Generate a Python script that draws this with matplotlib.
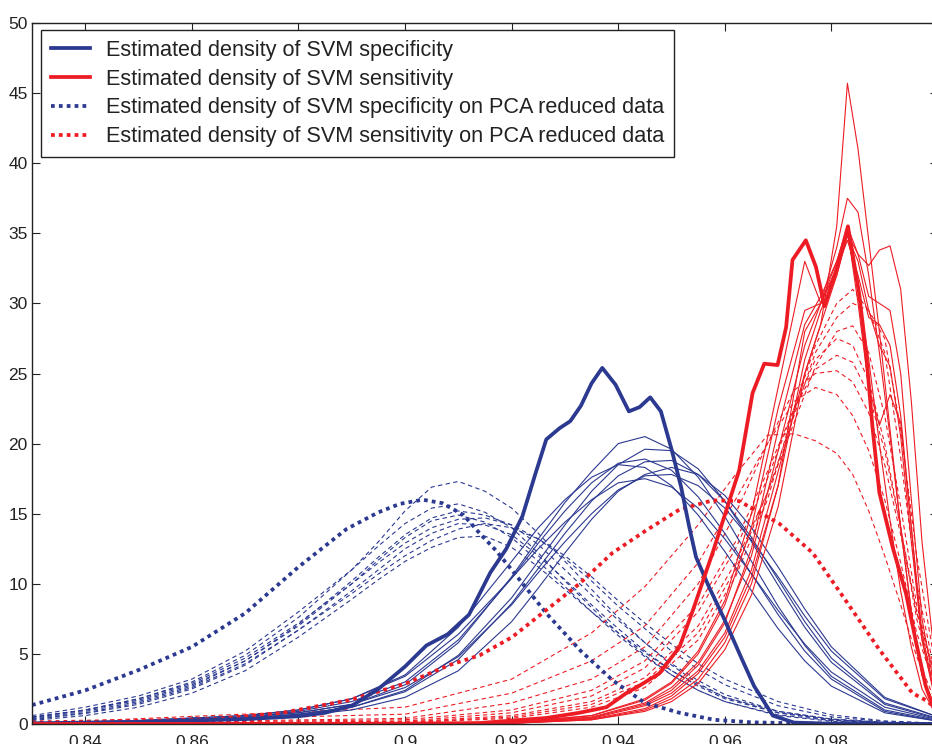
import matplotlib
matplotlib.use("Agg")
import matplotlib.pyplot as plt
from matplotlib.lines import Line2D

BLUE = "#2b3990"
RED = "#ed1c24"

# estimated density of SVM specificity (thick blue)
spec_x = [0.83, 0.85, 0.86, 0.87, 0.88, 0.885, 0.89, 0.895, 0.9, 0.904, 0.908, 0.912,
          0.916, 0.919, 0.922, 0.9245, 0.9265, 0.929, 0.931, 0.933, 0.935, 0.937,
          0.9395, 0.942, 0.944, 0.946, 0.948, 0.950, 0.9518, 0.9533, 0.9546, 0.957,
          0.960, 0.963, 0.9655, 0.969, 0.973, 0.98, 1.0]
spec_y = [0.05, 0.15, 0.25, 0.35, 0.55, 0.8, 1.3, 2.5, 4.1, 5.6, 6.4, 7.8,
          10.8, 12.5, 14.8, 17.9, 20.3, 21.1, 21.6, 22.7, 24.3, 25.4,
          24.2, 22.3, 22.6, 23.3, 22.3, 19.6, 16.9, 14.1, 11.9, 9.8,
          7.4, 4.8, 2.7, 0.6, 0.1, 0.02, 0.0]

# estimated density of SVM sensitivity (thick red)
sens_x = [0.83, 0.90, 0.914, 0.9265, 0.9327, 0.9378, 0.9415, 0.9434, 0.9477, 0.9515,
          0.954, 0.9577, 0.9627, 0.9652, 0.9674, 0.9699, 0.9715, 0.9727, 0.9752,
          0.9771, 0.9787, 0.981, 0.9831, 0.9852, 0.9865, 0.9877, 0.989, 0.9915,
          0.994, 0.9959, 0.9977, 1.0]
sens_y = [0.0, 0.02, 0.07, 0.43, 0.8, 1.2, 2.2, 2.6, 3.6, 5.5,
          8.1, 12.2, 18.1, 23.6, 25.7, 25.6, 28.3, 33.1, 34.5,
          32.6, 29.8, 32.5, 35.5, 30.7, 26.5, 21.2, 16.5, 12.6,
          9.3, 5.8, 2.7, 0.3]

# specificity on PCA reduced data (thick blue dotted)
spec_pca_x = [0.83, 0.84, 0.85, 0.86, 0.87, 0.88, 0.889, 0.895, 0.899, 0.9033, 0.907,
              0.911, 0.914, 0.917, 0.920, 0.9265, 0.933, 0.939, 0.945, 0.9515, 0.958,
              0.965, 0.975, 1.0]
spec_pca_y = [1.35, 2.4, 3.85, 5.5, 7.9, 11.2, 13.9, 15.1, 15.7, 16.0, 15.75,
              14.9, 13.6, 12.4, 11.0, 7.9, 5.2, 3.1, 1.5, 0.8, 0.3,
              0.12, 0.04, 0.0]

# sensitivity on PCA reduced data (thick red dotted)
sens_pca_x = [0.83, 0.852, 0.8645, 0.877, 0.8895, 0.9002, 0.9083, 0.914, 0.9201, 0.9264,
              0.9327, 0.9389, 0.9452, 0.9515, 0.9577, 0.9627, 0.9702, 0.9765, 0.9827,
              0.989, 0.9952, 0.9977, 1.0]
sens_pca_y = [0.12, 0.24, 0.35, 0.8, 1.7, 2.9, 4.2, 4.9, 6.2, 8.1,
              10.0, 12.2, 13.8, 15.3, 15.95, 15.9, 14.3, 12.2, 8.8,
              5.3, 2.2, 1.7, 1.0]

# individual runs, specificity (thin blue)
run_spec_x = [0.83, 0.85, 0.87, 0.88, 0.89, 0.90, 0.91, 0.92, 0.925, 0.93, 0.935,
              0.94, 0.945, 0.95, 0.955, 0.96, 0.965, 0.97, 0.975, 0.98, 0.99, 1.0]
run_spec = [
    [0.05, 0.2, 0.5, 0.8, 1.4, 2.8, 5.8, 10.5, 13.2, 15.8, 18.0, 20.0, 20.5, 19.6, 17.6, 14.8, 11.6, 8.4, 5.6, 3.4, 1.0, 0.25],
    [0.04, 0.15, 0.4, 0.7, 1.2, 2.4, 4.9, 9.0, 11.6, 14.2, 16.6, 18.5, 19.6, 19.5, 18.2, 15.9, 13.0, 9.9, 6.9, 4.4, 1.4, 0.35],
    [0.05, 0.2, 0.5, 0.9, 1.6, 3.0, 6.0, 10.4, 12.9, 15.2, 17.2, 18.6, 18.9, 18.1, 16.2, 13.6, 10.7, 7.8, 5.2, 3.2, 0.9, 0.2],
    [0.06, 0.25, 0.6, 1.0, 1.8, 3.5, 6.9, 11.6, 14.0, 16.0, 17.6, 18.5, 18.3, 17.0, 14.9, 12.3, 9.5, 6.8, 4.5, 2.7, 0.8, 0.2],
    [0.04, 0.15, 0.4, 0.7, 1.2, 2.3, 4.6, 8.6, 11.1, 13.6, 15.9, 17.7, 18.7, 18.8, 17.8, 15.9, 13.3, 10.3, 7.3, 4.7, 1.5, 0.4],
    [0.05, 0.2, 0.5, 0.8, 1.4, 2.6, 4.8, 8.5, 10.8, 13.0, 15.0, 16.7, 17.7, 17.8, 17.0, 15.4, 13.1, 10.5, 7.7, 5.2, 1.8, 0.5],
    [0.06, 0.25, 0.6, 1.0, 1.8, 3.4, 6.4, 10.4, 12.5, 14.4, 16.0, 17.2, 17.5, 16.9, 15.4, 13.2, 10.7, 8.1, 5.7, 3.7, 1.2, 0.3],
    [0.03, 0.1, 0.3, 0.6, 1.0, 1.9, 3.8, 7.3, 9.7, 12.2, 14.6, 16.6, 17.8, 18.3, 17.8, 16.3, 14.0, 11.2, 8.2, 5.5, 1.9, 0.5],
]

# individual runs, specificity on PCA data (thin blue dashed)
run_spec_pca_x = [0.83, 0.84, 0.85, 0.86, 0.87, 0.88, 0.89, 0.895, 0.90, 0.905, 0.91, 0.915,
                  0.92, 0.925, 0.93, 0.935, 0.94, 0.945, 0.95, 0.955, 0.96, 0.97, 0.98, 0.99, 1.0]
run_spec_pca = [
    [0.45, 1.0, 1.8, 3.0, 4.9, 7.6, 11.0, 13.0, 15.2, 16.9, 17.3, 16.6, 15.4, 13.6, 11.6, 9.6, 7.6, 5.8, 4.2, 2.9, 1.9, 0.8, 0.3, 0.1, 0.02],
    [0.6, 1.2, 2.0, 3.2, 5.2, 8.0, 11.0, 12.7, 14.3, 15.4, 15.7, 15.1, 14.0, 12.2, 10.2, 8.3, 6.5, 4.9, 3.5, 2.4, 1.6, 0.6, 0.2, 0.06, 0.02],
    [0.4, 0.9, 1.6, 2.7, 4.5, 7.1, 10.2, 11.9, 13.5, 14.7, 15.2, 14.9, 14.2, 12.8, 11.0, 9.2, 7.4, 5.8, 4.3, 3.1, 2.1, 0.9, 0.35, 0.1, 0.03],
    [0.5, 1.0, 1.8, 2.9, 4.7, 7.2, 10.0, 11.5, 12.9, 14.0, 14.6, 14.7, 14.2, 13.2, 11.8, 10.2, 8.4, 6.8, 5.2, 3.9, 2.8, 1.3, 0.5, 0.18, 0.05],
    [0.3, 0.75, 1.4, 2.5, 4.2, 6.7, 9.5, 11.0, 12.5, 13.6, 14.3, 14.2, 13.5, 12.0, 10.3, 8.5, 6.8, 5.2, 3.8, 2.7, 1.8, 0.8, 0.3, 0.1, 0.03],
    [0.35, 0.8, 1.5, 2.6, 4.3, 6.7, 9.3, 10.7, 12.0, 13.1, 13.9, 14.3, 14.0, 13.2, 12.0, 10.5, 8.8, 7.2, 5.7, 4.3, 3.2, 1.6, 0.65, 0.22, 0.06],
    [0.25, 0.6, 1.2, 2.2, 3.8, 6.2, 8.9, 10.3, 11.6, 12.6, 13.3, 13.4, 12.6, 11.2, 9.6, 8.0, 6.5, 5.1, 3.8, 2.8, 1.9, 0.9, 0.35, 0.12, 0.03],
    [0.5, 1.0, 1.7, 2.8, 4.5, 7.0, 10.0, 11.7, 13.3, 14.5, 14.9, 14.4, 13.3, 11.6, 9.8, 8.0, 6.3, 4.8, 3.5, 2.4, 1.6, 0.65, 0.25, 0.08, 0.02],
]

# individual runs, sensitivity (thin red)
run_sens_x = [0.83, 0.92, 0.935, 0.945, 0.95, 0.955, 0.96, 0.965, 0.97, 0.975, 0.978,
              0.981, 0.983, 0.985, 0.987, 0.989, 0.991, 0.993, 0.995, 0.997, 1.0]
run_sens = [
    [0, 0.05, 0.4, 1.3, 2.2, 3.8, 6.5, 11.0, 18.0, 25.0, 28.5, 35.5, 45.7, 41.0, 34.5, 28.0, 21.0, 14.0, 8.0, 3.5, 0.6],
    [0, 0.1, 0.5, 1.5, 2.6, 4.4, 7.4, 12.0, 19.5, 27.0, 30.0, 34.0, 37.5, 36.5, 32.0, 26.5, 20.5, 14.0, 8.0, 3.5, 0.6],
    [0, 0.05, 0.3, 1.0, 1.8, 3.2, 5.8, 10.0, 17.0, 28.0, 30.0, 33.0, 35.5, 33.5, 30.5, 30.0, 29.5, 25.0, 16.0, 7.5, 1.2],
    [0, 0.05, 0.35, 1.1, 2.0, 3.6, 6.2, 10.5, 17.0, 26.0, 29.5, 32.0, 35.0, 33.5, 32.7, 33.8, 34.1, 31.0, 23.0, 13.0, 2.5],
    [0, 0.1, 0.6, 1.8, 3.0, 5.2, 8.8, 15.0, 24.0, 33.0, 30.0, 32.5, 35.0, 31.0, 26.0, 20.0, 14.5, 9.5, 5.5, 2.5, 0.4],
    [0, 0.08, 0.45, 1.4, 2.4, 4.2, 7.2, 12.5, 21.0, 28.5, 30.5, 33.0, 35.3, 30.0, 24.0, 21.3, 23.5, 21.5, 14.0, 6.0, 0.8],
    [0, 0.1, 0.6, 1.7, 2.9, 5.0, 8.5, 14.0, 22.5, 29.5, 30.0, 32.5, 34.5, 32.0, 29.0, 28.5, 27.0, 22.0, 14.0, 6.5, 1.0],
    [0, 0.05, 0.3, 0.9, 1.6, 2.9, 5.3, 9.2, 15.5, 25.0, 28.5, 32.0, 34.8, 33.0, 29.5, 27.0, 25.5, 20.5, 13.0, 6.0, 1.0],
]

# individual runs, sensitivity on PCA data (thin red dashed)
run_sens_pca_x = [0.83, 0.90, 0.92, 0.935, 0.945, 0.955, 0.962, 0.968, 0.973, 0.977,
                  0.981, 0.984, 0.987, 0.99, 0.993, 0.996, 1.0]
run_sens_pca = [
    [0, 0.1, 0.4, 1.2, 2.6, 6.0, 10.5, 16.0, 22.5, 27.0, 30.0, 31.0, 29.5, 26.5, 19.0, 10.0, 2.5],
    [0, 0.15, 0.6, 1.6, 3.3, 7.0, 11.5, 16.5, 21.5, 25.5, 28.0, 28.4, 26.5, 22.0, 15.5, 8.5, 2.5],
    [0.02, 0.3, 1.0, 2.4, 4.5, 8.5, 13.0, 18.0, 22.5, 25.3, 26.3, 25.8, 23.5, 19.5, 14.0, 8.0, 2.5],
    [0.02, 0.4, 1.5, 3.2, 5.5, 10.0, 15.0, 20.0, 23.8, 25.0, 25.2, 24.4, 22.2, 18.5, 13.5, 8.0, 2.8],
    [0.05, 1.2, 3.2, 6.5, 9.8, 14.2, 17.8, 20.6, 20.7, 20.2, 19.3, 17.8, 15.2, 12.0, 8.5, 4.8, 1.2],
    [0, 0.1, 0.5, 1.4, 3.0, 6.5, 11.0, 16.5, 22.0, 26.5, 29.0, 30.0, 29.5, 27.5, 21.0, 12.0, 3.0],
    [0.01, 0.2, 0.8, 2.0, 4.0, 8.0, 12.5, 17.5, 22.5, 26.0, 27.5, 27.0, 24.5, 20.0, 14.0, 7.5, 2.0],
    [0.05, 0.7, 2.2, 4.5, 7.0, 11.5, 16.0, 20.0, 23.0, 24.0, 23.5, 22.0, 19.5, 16.0, 11.5, 6.5, 2.0],
]

labels = ["Estimated density of SVM specificity",
          "Estimated density of SVM sensitivity",
          "Estimated density of SVM specificity on PCA reduced data",
          "Estimated density of SVM sensitivity on PCA reduced data"]

xticks = [0.84, 0.86, 0.88, 0.9, 0.92, 0.94, 0.96, 0.98]
xticklabels = ["0.84", "0.86", "0.88", "0.9", "0.92", "0.94", "0.96", "0.98"]
yticks = [0, 5, 10, 15, 20, 25, 30, 35, 40, 45, 50]

plt.rcParams['font.family'] = ['Liberation Sans', 'DejaVu Sans']

fig = plt.figure(figsize=(9.32, 7.44), dpi=100)
ax = fig.add_axes([32 / 932, 20 / 744, 906 / 932, 701 / 744])

thin = 0.8
thick = 2.7
dash = (0, (4, 3))
dot = (0, (1, 1.1))

for ys in run_spec_pca:
    ax.plot(run_spec_pca_x, ys, color=BLUE, lw=thin, linestyle=dash)
for ys in run_sens_pca:
    ax.plot(run_sens_pca_x, ys, color=RED, lw=thin, linestyle=dash)
for ys in run_spec:
    ax.plot(run_spec_x, ys, color=BLUE, lw=thin)
for ys in run_sens:
    ax.plot(run_sens_x, ys, color=RED, lw=thin)

ax.plot(spec_pca_x, spec_pca_y, color=BLUE, lw=thick, linestyle=dot, dash_capstyle='butt')
ax.plot(sens_pca_x, sens_pca_y, color=RED, lw=thick, linestyle=dot, dash_capstyle='butt')
ax.plot(spec_x, spec_y, color=BLUE, lw=thick)
ax.plot(sens_x, sens_y, color=RED, lw=thick)

ax.set_xlim(0.83, 1.0)
ax.set_ylim(0, 50)
ax.set_xticks(xticks)
ax.set_xticklabels(xticklabels)
ax.set_yticks(yticks)
ax.tick_params(direction='in', length=6, width=0.8, top=True, right=True,
               labelsize=12.5, labelcolor='#222222', color='#222222')
ax.tick_params(axis='x', pad=8)
ax.tick_params(axis='y', pad=3)
for s in ax.spines.values():
    s.set_linewidth(1.0)
    s.set_color('#222222')

handles = [Line2D([], [], color=BLUE, lw=thick),
           Line2D([], [], color=RED, lw=thick),
           Line2D([], [], color=BLUE, lw=thick, linestyle=dot, dash_capstyle='butt'),
           Line2D([], [], color=RED, lw=thick, linestyle=dot, dash_capstyle='butt')]
leg = ax.legend(handles, labels, loc='upper left', bbox_to_anchor=(9 / 906, 1 - 7 / 701),
                borderaxespad=0, fontsize=15.6, handlelength=1.8, handletextpad=0.75,
                labelspacing=0.36, borderpad=0.45, fancybox=False, framealpha=1,
                edgecolor='#222222')
leg.get_frame().set_linewidth(1.0)
for t in leg.get_texts():
    t.set_color('#222222')

fig.savefig("out.png", dpi=100)
